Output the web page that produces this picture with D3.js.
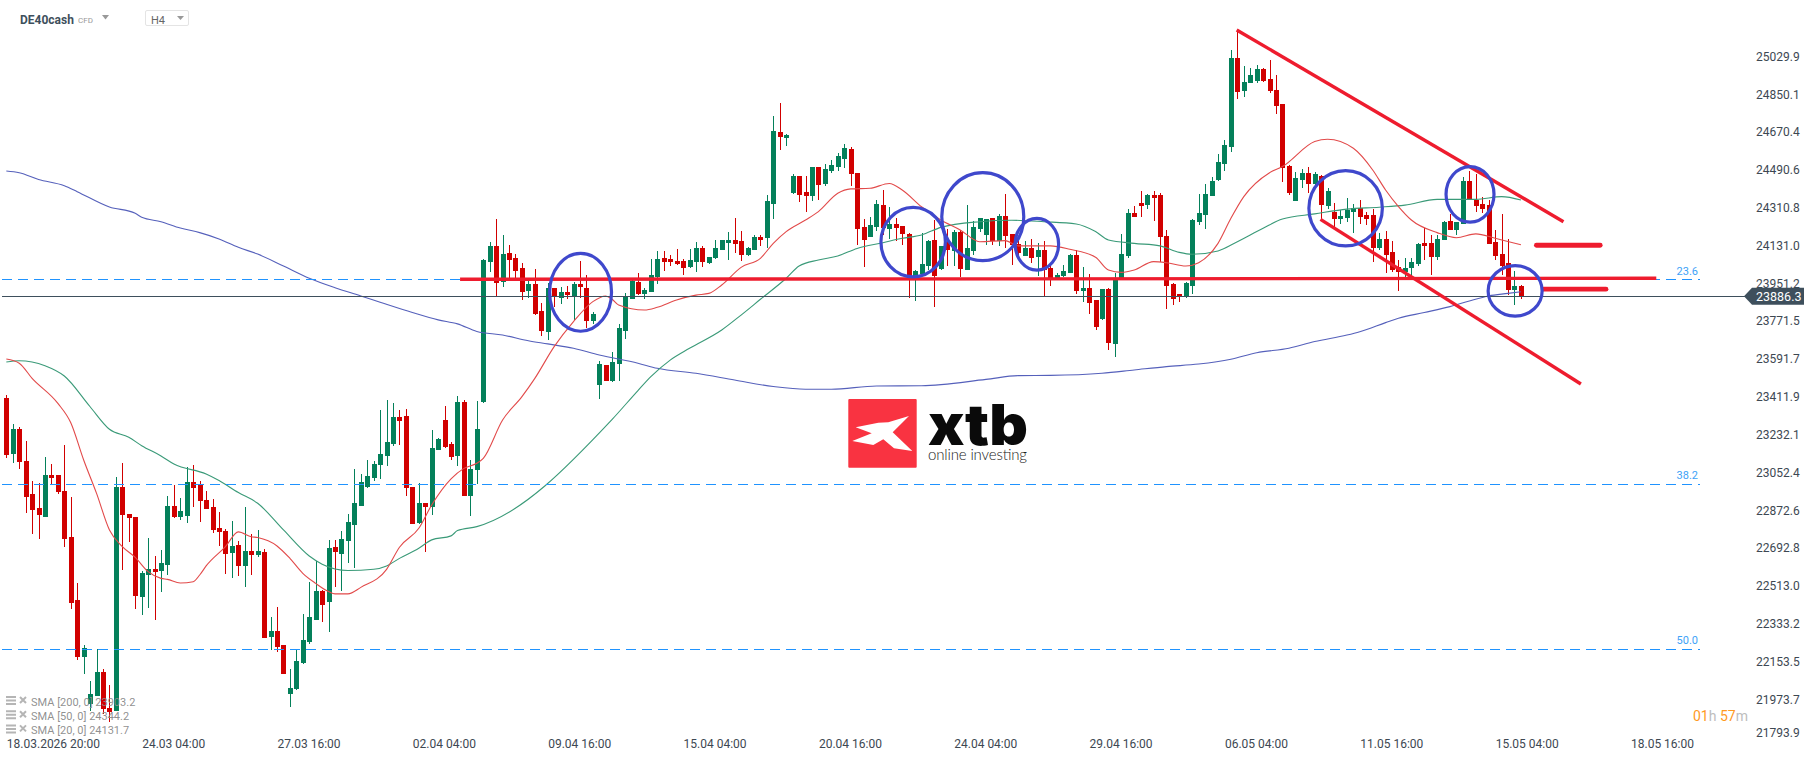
<!DOCTYPE html>
<html>
<head>
<meta charset="utf-8">
<title>DE40cash H4</title>
<script src="https://cdn.jsdelivr.net/npm/d3@7"></script>
<style>
    html, body { margin: 0; padding: 0; background: #fff; overflow: hidden; }
    svg { display: block; font-family: Roboto, sans-serif; }
    .axis path, .axis line { display: none; }
    .axis text { font-family: Roboto, sans-serif; font-size: 12px; fill: #3d4852; }
</style>
</head>
<body>
<svg id="chart" width="1816" height="761"></svg>
<script>
// Candles, left to right (one H4 candle per entry)
const candleOpen = [
    23401, 23136, 23255, 23103, 22946, 22880, 22837, 23037, 23037, 22960,
    22742, 22442, 22171, 21948, 21986, 22100, 21929, 21914, 22980, 22851,
    22837, 22456, 22561, 22590, 22580, 22609, 22889, 22837, 22842, 23003,
    22989, 22918, 22884, 22785, 22770, 22666, 22704, 22604, 22675, 22656,
    22670, 22266, 22295, 22228, 21995, 22019, 22143, 22242, 22347, 22485,
    22433, 22694, 22661, 22723, 22799, 22889, 22980, 23022, 23084, 23127,
    23184, 23312, 23317, 22980, 22808, 22903, 22884, 23155, 23298, 23184,
    23127, 23384, 22937, 23060, 23385, 24051, 24125, 23956, 24092, 24068,
    24021, 23911, 23945, 23816, 23717, 23926, 23878, 23907, 23886, 23945,
    23926, 23769, 23465, 23560, 23484, 23564, 23721, 23873, 23954, 23897,
    23907, 23978, 24068, 24064, 24054, 24054, 24026, 24049, 24116, 24045,
    24068, 24106, 24140, 24154, 24149, 24083, 24106, 24168, 24163, 24325,
    24668, 24639, 24377, 24458, 24382, 24363, 24501, 24420, 24482, 24501,
    24539, 24587, 24473, 24216, 24168, 24216, 24320, 24206, 24230, 24221,
    24183, 23980, 23992, 24030, 24154, 24019, 24145, 24102, 24192, 24011,
    24102, 24206, 24178, 24259, 24149, 24268, 24183, 24135, 24078, 24116,
    24073, 24106, 24021, 23972, 23983, 23997, 24083, 23912, 23926, 23869,
    23778, 23921, 23660, 23964, 24078, 24282, 24330, 24320, 24368, 24368,
    24173, 23945, 23897, 23886, 23935, 24240, 24273, 24363, 24439, 24515,
    24596, 25019, 24863, 24901, 24910, 24967, 24920, 24867, 24801, 24506,
    24339, 24439, 24473, 24420, 24458, 24316, 24287, 24254, 24259, 24287,
    24306, 24273, 24273, 24116, 24159, 24097, 24026, 24002, 24021, 24040,
    24140, 24140, 24073, 24154, 24244, 24202, 24230, 24435, 24344, 24325,
    24320, 24145, 24087, 24045, 23916, 23935
];
const candleHigh = [
    23417, 23279, 23265, 23198, 23008, 22999, 23122, 23089, 23037, 23179,
    22932, 22523, 22228, 22057, 22209, 22114, 22038, 23027, 23094, 22851,
    22837, 22580, 22737, 22651, 22680, 22937, 22989, 22927, 23075, 23084,
    23008, 22960, 22922, 22861, 22780, 22818, 22723, 22884, 22756, 22775,
    22685, 22361, 22409, 22228, 22114, 22209, 22376, 22528, 22628, 22490,
    22727, 22727, 22770, 22851, 23065, 23041, 23108, 23103, 23346, 23393,
    23379, 23346, 23350, 22980, 23000, 22903, 23251, 23212, 23365, 23193,
    23412, 23393, 23108, 23388, 24062, 24144, 24254, 24178, 24130, 24087,
    24045, 23959, 24016, 23854, 23950, 23926, 23931, 23935, 23954, 24054,
    23988, 23812, 23579, 23560, 23621, 23755, 23902, 23964, 23997, 23926,
    24064, 24102, 24102, 24083, 24111, 24064, 24111, 24144, 24125, 24073,
    24154, 24154, 24192, 24259, 24197, 24121, 24178, 24178, 24368, 24744,
    24805, 24658, 24468, 24458, 24458, 24501, 24501, 24515, 24534, 24568,
    24610, 24596, 24473, 24254, 24263, 24344, 24392, 24311, 24259, 24221,
    24187, 24011, 24186, 24154, 24249, 24126, 24205, 24202, 24202, 24319,
    24243, 24259, 24254, 24259, 24278, 24373, 24183, 24154, 24149, 24159,
    24140, 24149, 24035, 23997, 24035, 24087, 24106, 24026, 23992, 23869,
    23921, 23926, 23997, 24183, 24301, 24316, 24387, 24373, 24387, 24377,
    24202, 23950, 23897, 23954, 24254, 24373, 24420, 24454, 24563, 24630,
    25057, 25153, 24981, 24972, 24986, 24972, 25010, 24939, 24801, 24511,
    24477, 24492, 24501, 24477, 24463, 24401, 24330, 24297, 24354, 24325,
    24344, 24287, 24301, 24186, 24197, 24149, 24059, 24068, 24068, 24140,
    24211, 24178, 24178, 24244, 24278, 24240, 24454, 24482, 24468, 24358,
    24344, 24202, 24278, 24159, 24007, 23940
];
const candleLow = [
    23119, 23094, 23065, 22856, 22756, 22732, 22837, 22994, 22946, 22694,
    22399, 22157, 22090, 21914, 21986, 21900, 21862, 21914, 22585, 22718,
    22399, 22371, 22404, 22347, 22480, 22561, 22832, 22823, 22808, 22884,
    22813, 22875, 22761, 22699, 22566, 22547, 22556, 22504, 22561, 22647,
    22262, 22204, 22195, 22090, 21933, 22014, 22138, 22233, 22347, 22338,
    22290, 22504, 22485, 22618, 22594, 22889, 22975, 23008, 23018, 23079,
    23174, 23179, 22937, 22804, 22804, 22670, 22846, 23155, 23165, 23108,
    23079, 22937, 22842, 22994, 23377, 23999, 23888, 23932, 23970, 23970,
    23869, 23878, 23797, 23698, 23678, 23837, 23850, 23873, 23774, 23878,
    23736, 23755, 23398, 23484, 23479, 23484, 23683, 23873, 23892, 23873,
    23907, 23945, 24007, 24030, 24035, 23988, 24021, 24002, 24026, 24040,
    24064, 24106, 24059, 24092, 24054, 24078, 24106, 24125, 24116, 24254,
    24582, 24601, 24373, 24335, 24287, 24339, 24344, 24411, 24473, 24482,
    24496, 24411, 24130, 24026, 24168, 24197, 24178, 24159, 24149, 24130,
    23880, 23864, 23992, 24011, 23837, 24011, 24030, 24030, 23978, 24011,
    24083, 24192, 24130, 24130, 24126, 24116, 24035, 24075, 24078, 24045,
    23983, 23888, 23935, 23972, 23980, 23996, 23897, 23859, 23802, 23726,
    23774, 23631, 23598, 23964, 24068, 24263, 24263, 24301, 24244, 24049,
    23826, 23845, 23859, 23878, 23897, 24225, 24206, 24363, 24435, 24482,
    24572, 24824, 24834, 24901, 24901, 24905, 24853, 24753, 24430, 24368,
    24339, 24401, 24377, 24406, 24249, 24301, 24216, 24230, 24240, 24187,
    24230, 24225, 24049, 24106, 23996, 24003, 23913, 23980, 23983, 24030,
    24059, 23988, 24059, 24154, 24202, 24178, 24230, 24344, 24287, 24282,
    24135, 24059, 23988, 23892, 23845, 23873
];
const candleClose = [
    23132, 23255, 23098, 22932, 22870, 22846, 23037, 23022, 22956, 22732,
    22428, 22171, 22214, 21995, 22100, 21924, 21910, 22980, 22846, 22832,
    22461, 22571, 22590, 22575, 22618, 22889, 22837, 22865, 23003, 22975,
    22913, 22875, 22775, 22766, 22661, 22699, 22604, 22675, 22656, 22675,
    22262, 22295, 22219, 22090, 22024, 22152, 22252, 22361, 22485, 22418,
    22689, 22670, 22732, 22813, 22903, 23003, 23032, 23089, 23136, 23193,
    23312, 23293, 22975, 22804, 22903, 22884, 23165, 23208, 23170, 23122,
    23384, 22937, 23065, 23255, 24059, 24125, 23951, 24087, 24059, 24007,
    23907, 23945, 23802, 23721, 23926, 23888, 23907, 23892, 23945, 23930,
    23769, 23802, 23564, 23484, 23574, 23736, 23883, 23959, 23897, 23916,
    23988, 24064, 24049, 24049, 24040, 24021, 24059, 24116, 24049, 24073,
    24116, 24154, 24154, 24135, 24083, 24116, 24168, 24154, 24339, 24672,
    24644, 24653, 24458, 24368, 24363, 24501, 24416, 24492, 24511, 24553,
    24591, 24468, 24206, 24154, 24225, 24325, 24211, 24230, 24211, 24183,
    23983, 24007, 24040, 24149, 23983, 24126, 24106, 24192, 24016, 24116,
    24216, 24259, 24254, 24149, 24268, 24173, 24130, 24091, 24116, 24068,
    24106, 24011, 23969, 23988, 24007, 24083, 23912, 23926, 23854, 23740,
    23921, 23664, 23969, 24087, 24282, 24263, 24316, 24368, 24354, 24168,
    23935, 23874, 23883, 23950, 24249, 24282, 24373, 24435, 24525, 24606,
    25019, 24858, 24905, 24939, 24967, 24910, 24863, 24791, 24496, 24377,
    24449, 24473, 24420, 24468, 24320, 24387, 24254, 24268, 24297, 24306,
    24263, 24254, 24116, 24159, 24083, 24011, 24002, 24021, 24049, 24135,
    24126, 24073, 24159, 24240, 24202, 24240, 24435, 24344, 24316, 24301,
    24135, 24078, 24030, 23916, 23935, 23888
];

// Moving averages, read at the candle numbers given in the index arrays
const sma20Index = [0, 2, 4, 8, 10, 12, 14, 16, 18, 20, 22, 24, 25, 27, 29, 30, 31, 34, 36, 38, 39, 42, 44, 46, 48, 50, 51, 53, 55, 59, 61, 64, 66, 69, 71, 73, 74, 77, 80, 82, 85, 88, 91, 93, 94, 95, 99, 101, 104, 107, 109, 111, 114, 117, 119, 121, 124, 126, 129, 131, 134, 137, 139, 142, 145, 148, 151, 155, 157, 162, 165, 169, 171, 173, 175, 178, 180, 183, 185, 188, 190, 192, 196, 198, 203, 205, 209, 212, 214, 216, 218, 222, 225, 228, 231, 235];
const sma20Values = [23588, 23568, 23496, 23377, 23285, 23108, 22949, 22775, 22696, 22645, 22577, 22545, 22540, 22523, 22529, 22561, 22604, 22696, 22766, 22743, 22739, 22699, 22640, 22569, 22521, 22482, 22471, 22471, 22502, 22588, 22693, 22783, 22894, 23018, 23068, 23092, 23116, 23298, 23409, 23496, 23647, 23766, 23861, 23888, 23872, 23845, 23821, 23834, 23869, 23892, 23900, 23940, 24024, 24067, 24138, 24194, 24249, 24289, 24376, 24397, 24400, 24423, 24392, 24312, 24249, 24202, 24146, 24151, 24126, 24126, 24110, 24072, 24011, 24000, 24011, 24051, 24046, 24030, 24046, 24138, 24257, 24360, 24474, 24503, 24622, 24633, 24590, 24487, 24392, 24313, 24249, 24189, 24165, 24183, 24162, 24131];
const sma50Index = [0, 2, 6, 9, 13, 16, 19, 21, 24, 26, 31, 33, 36, 39, 43, 47, 49, 53, 57, 59, 61, 64, 66, 69, 70, 73, 94, 98, 100, 103, 106, 111, 114, 117, 121, 123, 126, 129, 132, 136, 139, 142, 145, 151, 156, 161, 166, 169, 171, 175, 179, 182, 184, 188, 191, 195, 198, 203, 208, 213, 217, 222, 228, 232, 235];
const sma50Values = [23574, 23580, 23556, 23507, 23361, 23254, 23216, 23176, 23127, 23089, 23041, 23010, 22953, 22902, 22775, 22651, 22612, 22582, 22588, 22604, 22640, 22688, 22728, 22747, 22772, 22791, 23301, 23438, 23504, 23583, 23639, 23726, 23797, 23872, 23972, 24030, 24059, 24078, 24114, 24141, 24162, 24178, 24214, 24241, 24248, 24241, 24230, 24194, 24154, 24138, 24126, 24095, 24086, 24102, 24146, 24210, 24254, 24278, 24301, 24310, 24320, 24347, 24347, 24360, 24344];
const sma200Index = [0, 2, 5, 9, 11, 16, 20, 21, 24, 27, 30, 33, 36, 39, 43, 47, 51, 55, 58, 63, 67, 70, 73, 77, 81, 84, 88, 92, 98, 101, 107, 113, 119, 124, 128, 135, 142, 152, 157, 162, 170, 175, 180, 185, 190, 194, 199, 203, 208, 210, 214, 216, 220, 224, 227, 230, 233, 235];
const sma200Values = [24482, 24474, 24442, 24412, 24384, 24311, 24281, 24262, 24241, 24211, 24189, 24159, 24119, 24087, 24030, 23972, 23927, 23888, 23858, 23809, 23774, 23755, 23719, 23702, 23675, 23660, 23639, 23607, 23568, 23544, 23520, 23488, 23457, 23444, 23444, 23460, 23461, 23491, 23509, 23510, 23520, 23536, 23552, 23564, 23587, 23618, 23639, 23671, 23702, 23718, 23761, 23782, 23809, 23837, 23864, 23888, 23900, 23908];

// Axis ticks
const priceTicks = [25029.9, 24850.1, 24670.4, 24490.6, 24310.8, 24131.0, 23951.2, 23771.5, 23591.7, 23411.9, 23232.1, 23052.4, 22872.6, 22692.8, 22513.0, 22333.2, 22153.5, 21973.7, 21793.9];
const timeTickIndex = [0, 21, 42, 63, 84, 105, 126, 147, 168, 189, 210, 231, 252];
const timeTickLabels = ['18.03.2026 20:00', '24.03 04:00', '27.03 16:00', '02.04 04:00', '09.04 16:00', '15.04 04:00', '20.04 16:00', '24.04 04:00', '29.04 16:00', '06.05 04:00', '11.05 16:00', '15.05 04:00', '18.05 16:00'];

// Fibonacci levels and last price
const fibPrices = [23964, 22992, 22208];
const fibLabels = ['23.6', '38.2', '50.0'];
const lastPrice = 23886.3;

// Hand drawn annotations, as [candle number, price] pairs
const trendLines = [
    [[190.9, 25153], [241.6, 24241]],
    [[203.9, 24252], [244.3, 23469]],
    [[70.4, 23967], [256, 23972]]
];
const targetLines = [
    [[237.4, 24129], [247.3, 24129]],
    [[238.5, 23920], [248.2, 23920]]
];
const circleIndex = [89.1, 140.7, 151.5, 159.9, 207.8, 227.1, 234.1];
const circlePrice = [23905, 24144, 24265, 24134, 24305, 24371, 23912];
const circleSpanIndex = [4.8, 5.0, 6.36, 3.37, 5.7, 3.72, 4.19];
const circleSpanPrice = [185, 165, 209, 123, 179, 132, 120];

// Indicator legend
const legendLabels = ['SMA [200, 0] 23903.2', 'SMA [50, 0] 24344.2', 'SMA [20, 0] 24131.7'];

const svg = d3.select('#chart');

const x = d3.scaleLinear().domain([0, 252]).range([6.33, 1630.5]);
const y = d3.scaleLinear().domain([25029.9, 21793.9]).range([55.8, 736.3]);

const UP_COLOR = '#04805a';
const DOWN_COLOR = '#d10000';
const BODY_WIDTH = 5;

// Candles
function drawCandles() {
    const g = svg.append('g').attr('shape-rendering', 'crispEdges');
    const candles = g.selectAll('g').data(candleOpen.map((o, i) => i)).enter().append('g')
        .attr('fill', i => candleClose[i] >= candleOpen[i] ? UP_COLOR : DOWN_COLOR);

    candles.append('rect')
        .attr('x', i => Math.round(x(i)))
        .attr('width', 1)
        .attr('y', i => Math.round(y(candleHigh[i])))
        .attr('height', i => Math.max(1, Math.round(y(candleLow[i]) - y(candleHigh[i]))));

    candles.append('rect')
        .attr('x', i => Math.round(x(i)) - 2)
        .attr('width', BODY_WIDTH)
        .attr('y', i => Math.round(y(Math.max(candleOpen[i], candleClose[i]))))
        .attr('height', i => Math.max(2, Math.round(Math.abs(y(candleOpen[i]) - y(candleClose[i])))));
}

// Moving average lines
function drawSma(index, values, color) {
    const line = d3.line()
        .x(d => x(d))
        .y((d, i) => y(values[i]))
        .curve(d3.curveMonotoneX);
    svg.append('path')
        .attr('d', line(index))
        .attr('fill', 'none')
        .attr('stroke', color)
        .attr('stroke-width', 1.1);
}

// Fibonacci levels and the last price line
function drawLevels() {
    svg.selectAll('.fib').data(fibPrices).enter().append('line')
        .attr('class', 'fib')
        .attr('x1', 2).attr('x2', 1700)
        .attr('y1', d => y(d)).attr('y2', d => y(d))
        .attr('stroke', '#1f93ff')
        .attr('stroke-width', 1)
        .attr('stroke-dasharray', '10,6')
        .attr('shape-rendering', 'crispEdges');

    svg.selectAll('.fib-label').data(fibLabels).enter().append('text')
        .attr('class', 'fib-label')
        .attr('x', 1698)
        .attr('y', (d, i) => y(fibPrices[i]) - 5)
        .attr('text-anchor', 'end')
        .attr('font-size', 11)
        .attr('fill', '#3ea2f7')
        .text(d => d);

    const ly = y(lastPrice);
    svg.append('line')
        .attr('x1', 2).attr('x2', 1745)
        .attr('y1', ly).attr('y2', ly)
        .attr('stroke', '#3e4f5c')
        .attr('stroke-width', 1)
        .attr('shape-rendering', 'crispEdges');
}

function drawLastPriceTag() {
    const ly = y(lastPrice);
    svg.append('path')
        .attr('d', `M1744,${ly} L1752,${ly - 8.5} H1804 V${ly + 8.5} H1752 Z`)
        .attr('fill', '#3e4f5c');
    svg.append('text')
        .attr('x', 1756)
        .attr('y', ly + 4.5)
        .attr('font-size', 12.5)
        .attr('fill', '#fff')
        .text(lastPrice.toFixed(1));
}

// Red lines and blue circles drawn over the chart
function drawAnnotations() {
    const line = d3.line().x(d => x(d[0])).y(d => y(d[1]));

    svg.selectAll('.trend').data(trendLines).enter().append('path')
        .attr('class', 'trend')
        .attr('d', line)
        .attr('stroke', '#ee1c2e')
        .attr('stroke-width', 3.4)
        .attr('fill', 'none');

    svg.selectAll('.target').data(targetLines).enter().append('path')
        .attr('class', 'target')
        .attr('d', line)
        .attr('stroke', '#ee1c2e')
        .attr('stroke-width', 4.8)
        .attr('stroke-linecap', 'round')
        .attr('fill', 'none');

    svg.selectAll('.circle').data(circleIndex).enter().append('ellipse')
        .attr('class', 'circle')
        .attr('cx', d => x(d))
        .attr('cy', (d, i) => y(circlePrice[i]))
        .attr('rx', (d, i) => x(circleSpanIndex[i]) - x(0))
        .attr('ry', (d, i) => y(0) - y(circleSpanPrice[i]))
        .attr('fill', 'none')
        .attr('stroke', '#3f48cc')
        .attr('stroke-width', 3.2);
}

// Axes
function drawAxes() {
    const yAxis = d3.axisRight(y)
        .tickValues(priceTicks)
        .tickFormat(d => d.toFixed(1))
        .tickSize(0)
        .tickPadding(0);
    const yGroup = svg.append('g')
        .attr('class', 'axis')
        .attr('transform', 'translate(1756,0.7)')
        .call(yAxis);
    // lowest label is pushed up so it stays above the time axis
    yGroup.selectAll('.tick').filter(d => d === 21793.9).select('text').attr('dy', '-0.02em');

    const xAxis = d3.axisBottom(x)
        .tickValues(timeTickIndex)
        .tickFormat((d, i) => timeTickLabels[i])
        .tickSize(0)
        .tickPadding(0);
    const xGroup = svg.append('g')
        .attr('class', 'axis')
        .attr('transform', 'translate(0,739)')
        .call(xAxis);
    xGroup.selectAll('text').attr('text-anchor', 'start').attr('dy', '0.71em');
}

// Instrument selector, legend and countdown
function drawHeader() {
    svg.append('text').attr('x', 20).attr('y', 24)
        .attr('font-size', 12).attr('font-weight', 700).attr('fill', '#3e4f5c')
        .text('DE40cash');
    svg.append('text').attr('x', 78).attr('y', 23)
        .attr('font-size', 8).attr('fill', '#999').text('CFD');
    svg.append('path').attr('d', 'M102,15 H109 L105.5,19.5 Z').attr('fill', '#999');

    svg.append('rect')
        .attr('x', 145.5).attr('y', 10.5).attr('width', 43).attr('height', 15).attr('rx', 1.5)
        .attr('fill', '#fff').attr('stroke', '#e4e4e4');
    svg.append('text').attr('x', 151).attr('y', 24)
        .attr('font-size', 11).attr('fill', '#666').text('H4');
    svg.append('path').attr('d', 'M177,16 H184 L180.5,20 Z').attr('fill', '#999');
}

function drawLegend() {
    const rows = svg.selectAll('.legend').data(legendLabels).enter().append('g')
        .attr('class', 'legend')
        .attr('transform', (d, i) => `translate(0,${701 + i * 14.2})`);

    rows.append('path')
        .attr('d', 'M6,-5 H16 V-3 H6 Z M6,-1.5 H16 V0.5 H6 Z M6,2 H16 V4 H6 Z')
        .attr('fill', '#b5b5b5');
    rows.append('path')
        .attr('d', 'M20,-4 L26,2 M26,-4 L20,2')
        .attr('stroke', '#b5b5b5')
        .attr('stroke-width', 2);
    rows.append('text')
        .attr('x', 31).attr('y', 4.5)
        .attr('font-size', 11)
        .attr('fill', '#8a8a8a')
        .attr('fill-opacity', 0.95)
        .text(d => d);
}

function drawCountdown() {
    const t = svg.append('text').attr('x', 1693).attr('y', 721).attr('font-size', 14);
    t.append('tspan').attr('fill', '#ff9a1f').text('01');
    t.append('tspan').attr('fill', '#bdbdbd').text('h ');
    t.append('tspan').attr('fill', '#ff9a1f').text('57');
    t.append('tspan').attr('fill', '#bdbdbd').text('m');
}

// xtb logo in the middle of the chart
function drawLogo() {
    const g = svg.append('g');
    g.append('rect')
        .attr('x', 848.3).attr('y', 399).attr('width', 68.4).attr('height', 68.7).attr('rx', 1)
        .attr('fill', '#f93341');
    g.append('path')
        .attr('d', 'M855.7,427.3 L878.3,422.7 L888.3,422.3 L909,416 L892.7,432.3 L912.3,451 L894,448.3 L883.3,439.3 L873.3,445 L852.3,441 L871.7,433.3 Z')
        .attr('fill', '#fff');
    g.append('text')
        .attr('x', 928).attr('y', 445)
        .attr('font-family', 'Inter, sans-serif')
        .attr('font-size', 56).attr('font-weight', 900)
        .attr('textLength', 100).attr('lengthAdjust', 'spacingAndGlyphs')
        .attr('fill', '#0a0a0a')
        .text('xtb');
    g.append('text')
        .attr('x', 928).attr('y', 460)
        .attr('font-family', 'Lato, sans-serif')
        .attr('font-size', 15).attr('font-weight', 300)
        .attr('textLength', 99).attr('lengthAdjust', 'spacing')
        .attr('fill', '#222')
        .text('online investing');
}

drawLogo();
drawCandles();
drawSma(sma200Index, sma200Values, '#5560bb');
drawSma(sma50Index, sma50Values, '#3a9a78');
drawSma(sma20Index, sma20Values, '#e24a4a');
drawLevels();
drawAnnotations();
drawAxes();
drawLastPriceTag();
drawHeader();
drawLegend();
drawCountdown();
</script>
</body>
</html>
